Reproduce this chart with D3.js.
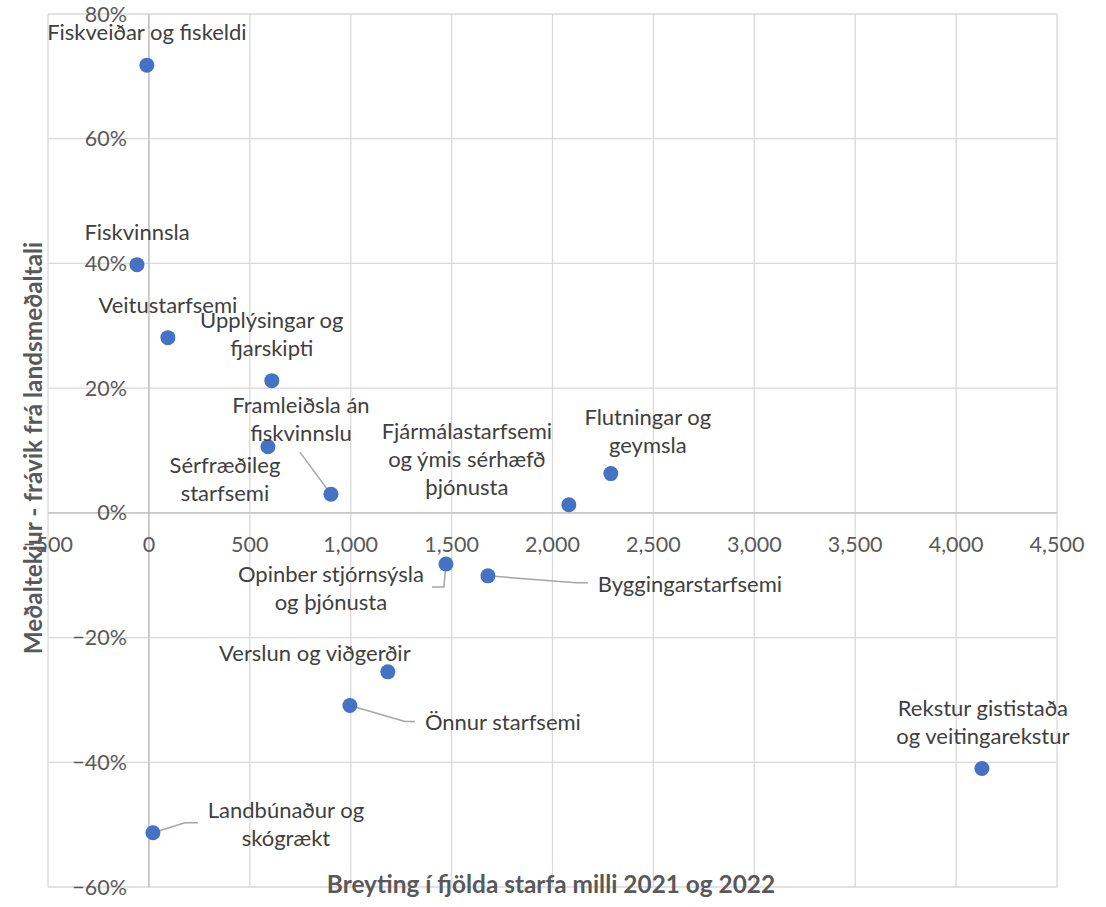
<!DOCTYPE html>
<html><head><meta charset="utf-8">
<script src="https://cdn.jsdelivr.net/npm/d3@7"></script>
<style>body{margin:0;background:#fff}svg text{font-family:Lato,"Open Sans",sans-serif}</style>
</head><body><svg id="c" width="1106" height="907"></svg>
<script>
const categories = ["Fiskveiðar og fiskeldi","Fiskvinnsla","Veitustarfsemi","Upplýsingar og fjarskipti","Sérfræðileg starfsemi","Framleiðsla án fiskvinnslu","Fjármálastarfsemi og ýmis sérhæfð þjónusta","Flutningar og geymsla","Opinber stjórnsýsla og þjónusta","Byggingarstarfsemi","Verslun og viðgerðir","Önnur starfsemi","Landbúnaður og skógrækt","Rekstur gististaða og veitingarekstur"];
const jobChange = [-10,-59,94,609,590,902,2081,2289,1472,1680,1184,996,20,4128];
const wageDeviation = [0.718,0.398,0.281,0.212,0.106,0.030,0.013,0.063,-0.082,-0.101,-0.255,-0.309,-0.513,-0.410];
const xTicks = [-500,0,500,1000,1500,2000,2500,3000,3500,4000,4500];
const yTicks = [-0.6,-0.4,-0.2,0,0.2,0.4,0.6,0.8];
const xTitle = "Breyting í fjölda starfa milli 2021 og 2022";
const yTitle = "Meðaltekjur - frávik frá landsmeðaltali";

// label layout: lines, offset of block centre from point, optional leader (offsets from point)
const labelLayout = [
 {lines:["Fiskveiðar og fiskeldi"], dx:0, dy:-33},
 {lines:["Fiskvinnsla"], dx:0, dy:-32},
 {lines:["Veitustarfsemi"], dx:0, dy:-32},
 {lines:["Upplýsingar og","fjarskipti"], dx:0, dy:-46},
 {lines:["Sérfræðileg","starfsemi"], dx:-43, dy:33},
 {lines:["Framleiðsla án","fiskvinnslu"], dx:-30, dy:-75, leader:[[-31,-42]]},
 {lines:["Fjármálastarfsemi","og ýmis sérhæfð","þjónusta"], dx:-102, dy:-45},
 {lines:["Flutningar og","geymsla"], dx:37, dy:-42},
 {lines:["Opinber stjórnsýsla","og þjónusta"], dx:-115, dy:24, leader:[[-2,23],[-14,23]]},
 {lines:["Byggingarstarfsemi"], dx:202, dy:8, leader:[[88,7],[100,7]]},
 {lines:["Verslun og viðgerðir"], dx:-73, dy:-19},
 {lines:["Önnur starfsemi"], dx:153, dy:17, leader:[[55,16],[65,16]]},
 {lines:["Landbúnaður og","skógrækt"], dx:133, dy:-8, leader:[[32,-10],[45,-10]]},
 {lines:["Rekstur gististaða","og veitingarekstur"], dx:1, dy:-46}
];

const svg = d3.select("#c");
const x = d3.scaleLinear().domain([-500,4500]).range([48,1057]);
const y = d3.scaleLinear().domain([-0.6,0.8]).range([887,14]);
const grid = "#d9d9d9", txt = "#595959";

// gridlines
svg.append("g").selectAll("line").data(xTicks).join("line")
  .attr("x1",d=>x(d)).attr("x2",d=>x(d)).attr("y1",y(0.8)).attr("y2",y(-0.6))
  .attr("stroke",grid).attr("stroke-width",1.3);
svg.append("g").selectAll("line").data(yTicks).join("line")
  .attr("y1",d=>y(d)).attr("y2",d=>y(d)).attr("x1",x(-500)).attr("x2",x(4500))
  .attr("stroke",grid).attr("stroke-width",1.3);
// axis lines
svg.append("line").attr("x1",x(-500)).attr("x2",x(4500)).attr("y1",y(0)).attr("y2",y(0)).attr("stroke","#bfbfbf").attr("stroke-width",1.3);
svg.append("line").attr("x1",x(0)).attr("x2",x(0)).attr("y1",y(0.8)).attr("y2",y(-0.6)).attr("stroke","#bfbfbf").attr("stroke-width",1.3);

// x tick labels
const fmtX = d3.format(",");
svg.append("g").selectAll("text").data(xTicks).join("text")
  .attr("x",d=>x(d)).attr("y",y(0)+39).attr("text-anchor","middle")
  .attr("font-size",21.5).attr("fill",txt).text(d=>fmtX(d));
// y tick labels
const fmtY = d3.format(".0%");
svg.append("g").selectAll("text").data(yTicks).join("text")
  .attr("x",x(0)-22).attr("y",d=>y(d)).attr("dy","0.35em").attr("text-anchor","end")
  .attr("font-size",21.5).attr("fill",txt).text(d=>fmtY(d));

// axis titles
svg.append("text").attr("x",551).attr("y",893).attr("text-anchor","middle")
  .attr("font-size",24.4).attr("font-weight","bold").attr("fill",txt).text(xTitle);
svg.append("text").attr("transform","translate(42,448) rotate(-90)").attr("text-anchor","middle")
  .attr("font-size",24.4).attr("font-weight","bold").attr("fill",txt).text(yTitle);

const pts = categories.map((c,i)=>({c, x:jobChange[i], y:wageDeviation[i], L:labelLayout[i]}));
// leaders
svg.append("g").selectAll("polyline").data(pts.filter(p=>p.L.leader)).join("polyline")
  .attr("points",p=>{const px=x(p.x),py=y(p.y);return [[px,py],...p.L.leader.map(o=>[px+o[0],py+o[1]])].map(q=>q.join(",")).join(" ");})
  .attr("fill","none").attr("stroke","#a6a6a6").attr("stroke-width",1.5);
// points
svg.append("g").selectAll("circle").data(pts).join("circle")
  .attr("cx",p=>x(p.x)).attr("cy",p=>y(p.y)).attr("r",7.5).attr("fill","#4472c4");
// labels
const lh = 28;
const lg = svg.append("g");
pts.forEach(p=>{
  const n=p.L.lines.length, cx=x(p.x)+p.L.dx, cy=y(p.y)+p.L.dy;
  const t = lg.append("text").attr("text-anchor","middle").attr("font-size",22).attr("fill","#404040");
  p.L.lines.forEach((s,k)=>{
    t.append("tspan").attr("x",cx).attr("y",cy+(k-(n-1)/2)*lh).attr("dy","0.35em").text(s);
  });
});
</script></body></html>
